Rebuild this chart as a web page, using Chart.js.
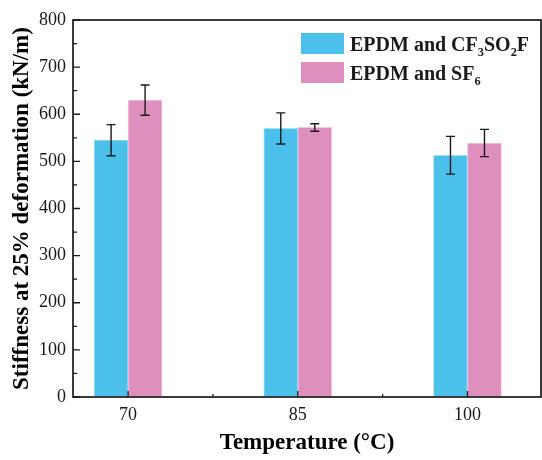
<!DOCTYPE html>
<html>
<head>
<meta charset="utf-8">
<script src="https://cdn.jsdelivr.net/npm/chart.js@4"></script>
<style>
  body { margin: 0; background: #fff; }
</style>
</head>
<body>
<canvas id="grafico" width="542" height="460"></canvas>
<script>
// dados
const temperaturas = [70, 85, 100];
const rotulosX = ["70", "85", "100"];
const ticksMenoresX = [77.5, 92.5];
const rotulosY = [0, 100, 200, 300, 400, 500, 600, 700, 800];

const nomeSerieA = "EPDM and CF₃SO₂F";
const rigidezA = [545, 570, 513];
const erroA = [33, 33, 40];

const nomeSerieB = "EPDM and SF₆";
const rigidezB = [630, 572, 539];
const erroB = [32, 8, 29];

const corA = "#4bc0ea";
const corB = "#de8fbd";
const fonte = "'Liberation Serif', 'Times New Roman', serif";
const tinta = "#1a1a1a";

const grafico = document.getElementById("grafico").getContext("2d");

// barras de erro
const barrasErro = {
  id: "barrasErro",
  afterDatasetsDraw(chart) {
    const ctx = chart.ctx;
    const y = chart.scales.y;
    ctx.save();
    ctx.strokeStyle = tinta;
    ctx.lineWidth = 1.4;
    chart.data.datasets.forEach((ds, d) => {
      chart.getDatasetMeta(d).data.forEach((el, i) => {
        const v = ds.data[i].y;
        const e = ds.erros[i];
        const y1 = y.getPixelForValue(v + e);
        const y2 = y.getPixelForValue(v - e);
        ctx.beginPath();
        ctx.moveTo(el.x, y1);
        ctx.lineTo(el.x, y2);
        ctx.moveTo(el.x - 4.5, y1);
        ctx.lineTo(el.x + 4.5, y1);
        ctx.moveTo(el.x - 4.5, y2);
        ctx.lineTo(el.x + 4.5, y2);
        ctx.stroke();
      });
    });
    ctx.restore();
  },
};

// moldura e marcas para dentro
const moldura = {
  id: "moldura",
  afterDatasetsDraw(chart) {
    const { ctx, chartArea: a, scales } = chart;
    ctx.save();
    ctx.strokeStyle = tinta;
    ctx.lineWidth = 1.3;
    ctx.beginPath();
    scales.y.ticks.forEach((t) => {
      const py = scales.y.getPixelForValue(t.value);
      const len = t.value % 100 === 0 ? 7 : 4;
      ctx.moveTo(a.left, py);
      ctx.lineTo(a.left + len, py);
    });
    scales.x.ticks.forEach((t) => {
      const px = scales.x.getPixelForValue(t.value);
      const len = temperaturas.includes(t.value) ? 6 : 3;
      ctx.moveTo(px, a.bottom);
      ctx.lineTo(px, a.bottom - len);
    });
    ctx.stroke();
    ctx.lineWidth = 1.7;
    ctx.strokeRect(a.left, a.top, a.right - a.left, a.bottom - a.top);
    ctx.restore();
  },
};

// legenda com índices
const indices = "₀₁₂₃₄₅₆₇₈₉";
function escreverComIndices(ctx, texto, x, y, tam) {
  let cx = x;
  let pedaco = "";
  let sub = false;
  const despejar = () => {
    if (!pedaco) return;
    ctx.font = `bold ${sub ? tam * 0.62 : tam}px ${fonte}`;
    ctx.fillText(pedaco, cx, sub ? y + tam * 0.25 : y);
    cx += ctx.measureText(pedaco).width;
    pedaco = "";
  };
  for (const ch of texto) {
    const i = indices.indexOf(ch);
    const ehSub = i >= 0;
    if (ehSub !== sub) {
      despejar();
      sub = ehSub;
    }
    pedaco += ehSub ? String(i) : ch;
  }
  despejar();
}

const legenda = {
  id: "legenda",
  afterDraw(chart) {
    const ctx = chart.ctx;
    ctx.save();
    ctx.fillStyle = tinta;
    chart.data.datasets.forEach((ds, d) => {
      const topo = 33 + d * 29;
      ctx.fillStyle = ds.backgroundColor;
      ctx.fillRect(301, topo, 43, 21);
      ctx.fillStyle = tinta;
      ctx.textBaseline = "alphabetic";
      escreverComIndices(ctx, ds.label, 350, topo + 18, 20);
    });
    ctx.restore();
  },
};

new Chart(grafico, {
  type: "bar",
  data: {
    datasets: [
      {
        label: nomeSerieA,
        data: temperaturas.map((t, i) => ({ x: t, y: rigidezA[i] })),
        erros: erroA,
        backgroundColor: corA,
        borderColor: "#a3def5",
        borderWidth: 1,
        barThickness: 34,
      },
      {
        label: nomeSerieB,
        data: temperaturas.map((t, i) => ({ x: t, y: rigidezB[i] })),
        erros: erroB,
        backgroundColor: corB,
        borderColor: "#f1c8e0",
        borderWidth: 1,
        barThickness: 34,
      },
    ],
  },
  options: {
    responsive: false,
    animation: false,
    layout: { padding: { top: 20, right: 1, left: 0, bottom: 0 } },
    plugins: {
      legend: { display: false },
      tooltip: { enabled: false },
    },
    scales: {
      x: {
        type: "linear",
        bounds: "data",
        offset: false,
        min: 65.13,
        max: 106.5,
        grid: { drawOnChartArea: false, drawTicks: false, offset: false },
        border: { display: false },
        afterBuildTicks: (s) => {
          s.ticks = temperaturas
            .concat(ticksMenoresX)
            .sort((a, b) => a - b)
            .map((v) => ({ value: v }));
        },
        afterFit: (s) => {
          s.height = 63;
        },
        ticks: {
          autoSkip: false,
          maxRotation: 0,
          padding: 7,
          color: tinta,
          font: { family: fonte, size: 18 },
          callback: (v) => {
            const i = temperaturas.indexOf(v);
            return i >= 0 ? rotulosX[i] : "";
          },
        },
        title: {
          display: true,
          text: "Temperature (°C)",
          color: "#000",
          font: { family: fonte, size: 23, weight: "bold" },
          padding: { top: 0, bottom: 3 },
        },
      },
      y: {
        min: 0,
        max: 800,
        grid: { drawOnChartArea: false, drawTicks: false },
        border: { display: false },
        afterBuildTicks: (s) => {
          const t = [];
          for (let v = 0; v <= 800; v += 50) t.push({ value: v });
          s.ticks = t;
        },
        afterFit: (s) => {
          s.width = 73;
        },
        ticks: {
          autoSkip: false,
          padding: 7,
          color: tinta,
          font: { family: fonte, size: 18 },
          callback: (v) => (rotulosY.includes(v) ? String(v) : ""),
        },
        title: {
          display: true,
          text: "Stiffness at 25% deformation (kN/m)",
          color: "#000",
          font: { family: fonte, size: 23, weight: "bold" },
          padding: { top: 8, bottom: 0 },
        },
      },
    },
  },
  plugins: [barrasErro, moldura, legenda],
});
</script>
</body>
</html>
